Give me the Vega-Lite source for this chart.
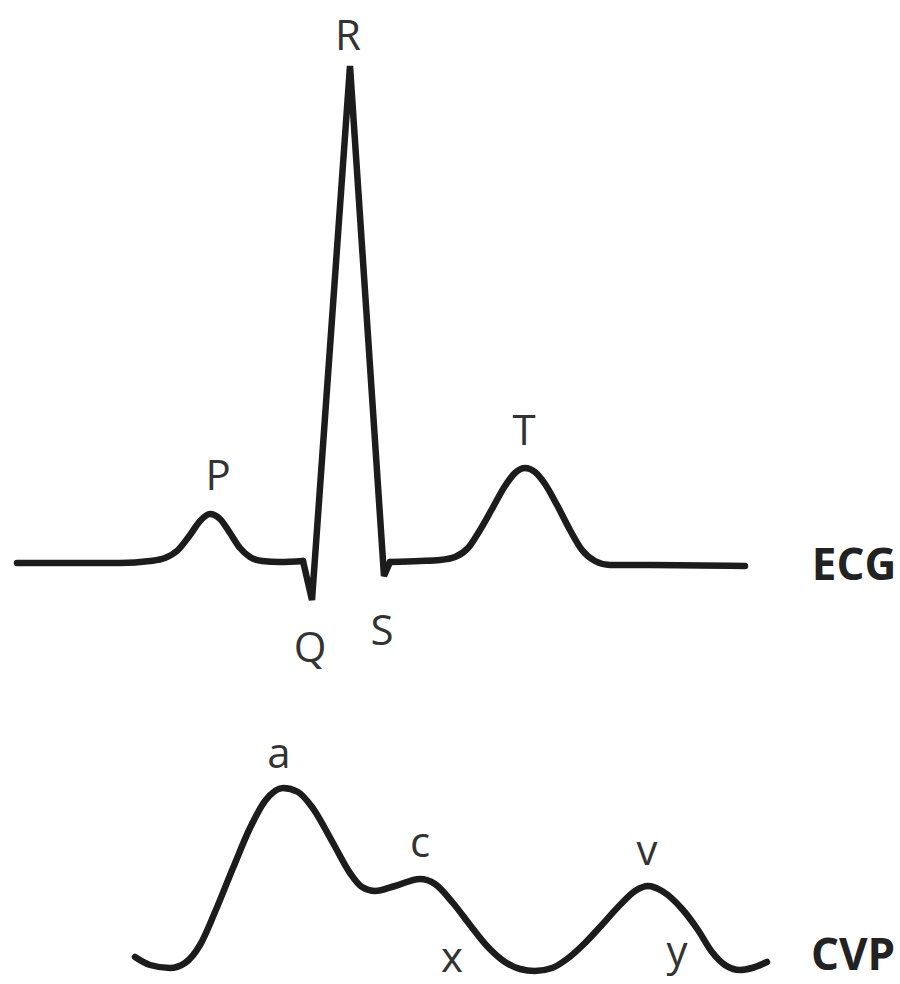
{
  "$schema": "https://vega.github.io/schema/vega-lite/v6.json",
  "width": 900,
  "height": 984,
  "autosize": {"type": "fit", "contains": "padding"},
  "padding": 0,
  "background": "white",
  "config": {"view": {"stroke": null}},
  "datasets": {
    "ecg": [
      {"seg": "a", "x": 17, "y": 563},
      {"seg": "a", "x": 120, "y": 563},
      {"seg": "a", "x": 150, "y": 561},
      {"seg": "a", "x": 165, "y": 558},
      {"seg": "a", "x": 178, "y": 550},
      {"seg": "a", "x": 190, "y": 535},
      {"seg": "a", "x": 200, "y": 521},
      {"seg": "a", "x": 210, "y": 514},
      {"seg": "a", "x": 220, "y": 519},
      {"seg": "a", "x": 230, "y": 533},
      {"seg": "a", "x": 240, "y": 548},
      {"seg": "a", "x": 250, "y": 557},
      {"seg": "a", "x": 262, "y": 561},
      {"seg": "a", "x": 280, "y": 562},
      {"seg": "a", "x": 303, "y": 561},
      {"seg": "q", "x": 303, "y": 561},
      {"seg": "q", "x": 312, "y": 600},
      {"seg": "q", "x": 350, "y": 66},
      {"seg": "q", "x": 384, "y": 576},
      {"seg": "q", "x": 390, "y": 562},
      {"seg": "b", "x": 390, "y": 562},
      {"seg": "b", "x": 420, "y": 561},
      {"seg": "b", "x": 440, "y": 560},
      {"seg": "b", "x": 455, "y": 557},
      {"seg": "b", "x": 468, "y": 548},
      {"seg": "b", "x": 480, "y": 530},
      {"seg": "b", "x": 492, "y": 509},
      {"seg": "b", "x": 505, "y": 486},
      {"seg": "b", "x": 515, "y": 473},
      {"seg": "b", "x": 525, "y": 468},
      {"seg": "b", "x": 535, "y": 472},
      {"seg": "b", "x": 545, "y": 484},
      {"seg": "b", "x": 557, "y": 505},
      {"seg": "b", "x": 570, "y": 530},
      {"seg": "b", "x": 582, "y": 550},
      {"seg": "b", "x": 595, "y": 561},
      {"seg": "b", "x": 610, "y": 565},
      {"seg": "b", "x": 650, "y": 565},
      {"seg": "b", "x": 745, "y": 566}
    ],
    "cvp": [
      {"x": 135, "y": 957},
      {"x": 150, "y": 965},
      {"x": 170, "y": 968},
      {"x": 185, "y": 963},
      {"x": 200, "y": 945},
      {"x": 215, "y": 912},
      {"x": 233, "y": 868},
      {"x": 250, "y": 828},
      {"x": 265, "y": 801},
      {"x": 283, "y": 788},
      {"x": 298, "y": 792},
      {"x": 312, "y": 807},
      {"x": 333, "y": 843},
      {"x": 350, "y": 873},
      {"x": 362, "y": 887},
      {"x": 375, "y": 891},
      {"x": 395, "y": 886},
      {"x": 420, "y": 879},
      {"x": 435, "y": 884},
      {"x": 453, "y": 903},
      {"x": 470, "y": 925},
      {"x": 487, "y": 946},
      {"x": 505, "y": 962},
      {"x": 520, "y": 969},
      {"x": 535, "y": 971},
      {"x": 552, "y": 968},
      {"x": 567, "y": 959},
      {"x": 585, "y": 943},
      {"x": 600, "y": 927},
      {"x": 620, "y": 905},
      {"x": 635, "y": 891},
      {"x": 648, "y": 886},
      {"x": 662, "y": 891},
      {"x": 683, "y": 910},
      {"x": 698, "y": 930},
      {"x": 712, "y": 952},
      {"x": 725, "y": 965},
      {"x": 740, "y": 970},
      {"x": 752, "y": 968},
      {"x": 767, "y": 962}
    ],
    "labels": [
      {"kind": "wave", "x": 348, "y": 50, "t": "R"},
      {"kind": "wave", "x": 218, "y": 490, "t": "P"},
      {"kind": "wave", "x": 310, "y": 662, "t": "Q"},
      {"kind": "wave", "x": 382, "y": 645, "t": "S"},
      {"kind": "wave", "x": 524, "y": 445, "t": "T"},
      {"kind": "wave", "x": 279, "y": 768, "t": "a"},
      {"kind": "wave", "x": 420, "y": 857, "t": "c"},
      {"kind": "wave", "x": 452, "y": 972, "t": "x"},
      {"kind": "wave", "x": 647, "y": 865, "t": "v"},
      {"kind": "wave", "x": 677, "y": 966, "t": "y"},
      {"kind": "name", "x": 854, "y": 580, "t": "ECG"},
      {"kind": "name", "x": 853, "y": 970, "t": "CVP"}
    ]
  },
  "encoding": {
    "x": {"field": "x", "type": "quantitative", "scale": {"domain": [0, 900]}, "axis": null},
    "y": {"field": "y", "type": "quantitative", "scale": {"domain": [0, 984], "reverse": true}, "axis": null}
  },
  "layer": [
    {
      "data": {"name": "ecg"},
      "transform": [{"filter": "datum.seg !== 'q'"}],
      "mark": {"type": "line", "interpolate": "monotone", "color": "#1c1c1c", "strokeWidth": 6.5, "strokeCap": "round", "strokeJoin": "round", "clip": false},
      "encoding": {"detail": {"field": "seg", "type": "nominal"}}
    },
    {
      "data": {"name": "ecg"},
      "transform": [{"filter": "datum.seg === 'q'"}],
      "mark": {"type": "line", "interpolate": "linear", "color": "#1c1c1c", "strokeWidth": 6.5, "strokeCap": "round", "strokeJoin": "miter", "strokeMiterLimit": 3, "clip": false},
      "encoding": {}
    },
    {
      "data": {"name": "cvp"},
      "mark": {"type": "line", "interpolate": "monotone", "color": "#1c1c1c", "strokeWidth": 6.5, "strokeCap": "round", "strokeJoin": "round", "clip": false},
      "encoding": {}
    },
    {
      "data": {"name": "labels"},
      "transform": [{"filter": "datum.kind === 'wave'"}],
      "mark": {"type": "text", "font": "Open Sans", "fontSize": 42, "color": "#333333", "align": "center", "baseline": "alphabetic"},
      "encoding": {"text": {"field": "t", "type": "nominal"}}
    },
    {
      "data": {"name": "labels"},
      "transform": [{"filter": "datum.kind === 'name'"}],
      "mark": {"type": "text", "font": "Open Sans", "fontSize": 44, "fontWeight": "bold", "color": "#222222", "align": "center", "baseline": "alphabetic"},
      "encoding": {"text": {"field": "t", "type": "nominal"}}
    }
  ]
}
